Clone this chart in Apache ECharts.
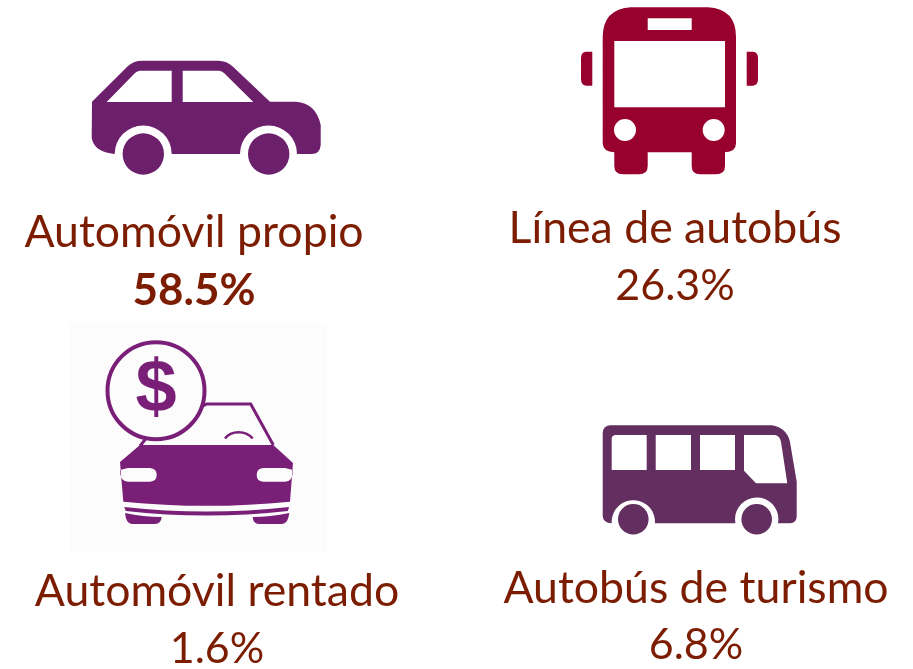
<!DOCTYPE html>
<html>
<head>
<meta charset="utf-8">
<title>Modo de transporte</title>
<script src="https://cdn.jsdelivr.net/npm/echarts@6/dist/echarts.min.js"></script>
<style>
  html, body { margin: 0; padding: 0; background: #fff; }
  #chart { width: 913px; height: 669px; }
</style>
</head>
<body>
<div id="chart"></div>
<script>
const modos = ['Automóvil propio', 'Línea de autobús', 'Automóvil rentado', 'Autobús de turismo']
const porcentajes = [58.5, 26.3, 1.6, 6.8]
const resaltado = [true, false, false, false]

const colorTexto = '#7c1d02'
const fuente = 'Lato, "Open Sans", sans-serif'
// centro de cada bloque de texto: nombre y porcentaje
const textoX = [194, 675, 217, 696]
const nombreY = [233, 229, 592, 589]
const valorY = [291, 286, 649, 645]

const circulo = (cx, cy, r) =>
  `M${cx - r} ${cy}A${r} ${r} 0 1 0 ${cx + r} ${cy}A${r} ${r} 0 1 0 ${cx - r} ${cy}Z`

const autoPropio =
  'M92 101.7L128 66Q134 60.7 142 60.7L218 60.7Q227 60.7 233 66.7L270 101.7L296 101.7Q316 103 320.7 125L320.7 145Q320 154 311.7 154L297 154' +
  'A28.5 28.5 0 0 0 240 154L171.7 154A28.5 28.5 0 0 0 114.7 154Q94 152 91.7 138Z' +
  'M106.7 102L171.7 102L171.7 70.7L140 70.7Q137 71 135 73Z' +
  'M182.7 102L253.3 102L224 73Q222 71 219 70.7L182.7 70.7Z' +
  circulo(143.3, 154, 20.7) + circulo(268.7, 154, 20.7)

const autobusLinea =
  'M631 7.3L708 7.3Q736 9 736 37L736 143Q736 152 725 152.3L725 166Q725 174.3 716 174.3L700 174.3Q691.7 174.3 691.7 166L691.7 152.3L647.7 152.3L647.7 166Q647.7 174.3 639 174.3L623 174.3Q614.3 174.3 614.3 166L614.3 152.3Q603 152 602.7 143L602.7 37Q603 9 631 7.3Z' +
  'M647.7 18.3L647.7 30L691.7 30L691.7 18.3Z' +
  'M614.3 41L614.3 107.3L725 107.3L725 41Z' +
  circulo(625, 130, 11) + circulo(713.7, 130, 11) +
  'M592.3 51.7L592.3 85.7L586 85.7Q581 85 581 79L581 58Q581 52 586 51.7Z' +
  'M746.7 51.7L753 51.7Q758 52 758 58L758 79Q758 85 753 85.7L746.7 85.7Z'

const autobusTurismo =
  'M610 425.3L771.7 425.3Q787 428 790 442L796.7 481.7L796.7 516Q796.7 523.3 790 523.3L778 523.3' +
  'A21.7 21.7 0 1 0 735.4 523.3L655 523.3A21.7 21.7 0 1 0 611.7 523.3Q603 523 602.7 516L602.7 433Q603 426 610 425.3Z' +
  'M611.7 438L611.7 470L646.7 470L646.7 435L615 435Q612 435.5 611.7 438Z' +
  'M655.7 435L655.7 470L691 470L691 435Z' +
  'M700 435L700 470L735 470L735 435Z' +
  'M744 435L744 470.7L756 483.3L787.3 483.3L781 442Q780 436 775 435Z' +
  circulo(633.3, 519.3, 15.3) + circulo(756.7, 519.3, 15.3)

const autoRentado =
  'M140 445L273.3 445L293 463L290 501.7Q206.7 510 123.3 501.7L120 462Z' +
  'M120 470Q120 481.5 128 481.7L150 481.7Q156.7 481 156.7 475Q156.7 468.5 150 468L128 468Z' +
  'M256.7 475Q256.7 481 263 481.7L285 481.7Q293 481.5 293 470L285 468L263 468Q256.7 468.5 256.7 475Z' +
  'M124.3 507Q206.7 516 289 507L288 511Q206.7 520 125.7 511Z' +
  'M125 513Q143 517 161.7 517Q161 524 155 524L132 524Q126 524 125 513Z' +
  'M252.7 517Q270 517 289.3 513Q288 524 282 524L259 524Q253 524 252.7 517Z'

const colorAuto = '#6c1f6b'
const colorLinea = '#98002e'
const colorRentado = '#7a1f78'
const colorTurismo = '#632e60'

function relleno(d, color) {
  const b = echarts.graphic.makePath(d, {}).getBoundingRect()
  return {
    type: 'path',
    shape: { pathData: d, x: b.x, y: b.y, width: b.width, height: b.height, layout: 'cover' },
    style: { fill: color },
    silent: true,
  }
}

// cada icono por indice de modo
const iconos = [
  () => [relleno(autoPropio, colorAuto)],
  () => [relleno(autobusLinea, colorLinea)],
  () => [
    { type: 'rect', shape: { x: 70, y: 323, width: 257, height: 229 }, style: { fill: '#fdfcfd' } },
    {
      type: 'polyline',
      shape: { points: [[140, 446], [148, 436], [206.7, 404], [250.7, 404], [273.3, 445]] },
      style: { fill: 'none', stroke: colorRentado, lineWidth: 3 },
    },
    {
      type: 'bezierCurve',
      shape: { x1: 225, y1: 438.5, x2: 252.7, y2: 438.5, cpx1: 231, cpy1: 430, cpx2: 246, cpy2: 430 },
      style: { fill: 'none', stroke: colorRentado, lineWidth: 2.5 },
    },
    relleno(autoRentado, colorRentado),
    {
      type: 'circle',
      shape: { cx: 156, cy: 390.7, r: 48.5 },
      style: { fill: '#fdfcfd', stroke: colorRentado, lineWidth: 4 },
    },
    {
      type: 'text',
      style: {
        text: '$', x: 156, y: 391, align: 'center', verticalAlign: 'middle',
        font: 'bold 74px "Liberation Sans"', fill: colorRentado,
      },
    },
  ],
  () => [relleno(autobusTurismo, colorTurismo)],
]

const chart = echarts.init(document.getElementById('chart'))

chart.setOption({
  animation: false,
  backgroundColor: '#ffffff',
  series: [
    {
      type: 'custom',
      coordinateSystem: 'none',
      silent: true,
      data: porcentajes.map((p, i) => [i, p]),
      renderItem: (params, api) => {
        const i = api.value(0)
        return {
          type: 'group',
          children: [
            ...iconos[i](),
            {
              type: 'text',
              style: {
                text: modos[i], x: textoX[i], y: nombreY[i], align: 'center', verticalAlign: 'middle',
                font: `44.6px ${fuente}`, fill: colorTexto,
              },
            },
            {
              type: 'text',
              style: {
                text: `${api.value(1).toFixed(1)}%`, x: textoX[i], y: valorY[i], align: 'center', verticalAlign: 'middle',
                font: `${resaltado[i] ? 'bold ' : ''}${resaltado[i] ? 44 : 43}px ${fuente}`, fill: colorTexto,
              },
            },
          ],
        }
      },
    },
  ],
})
</script>
</body>
</html>
